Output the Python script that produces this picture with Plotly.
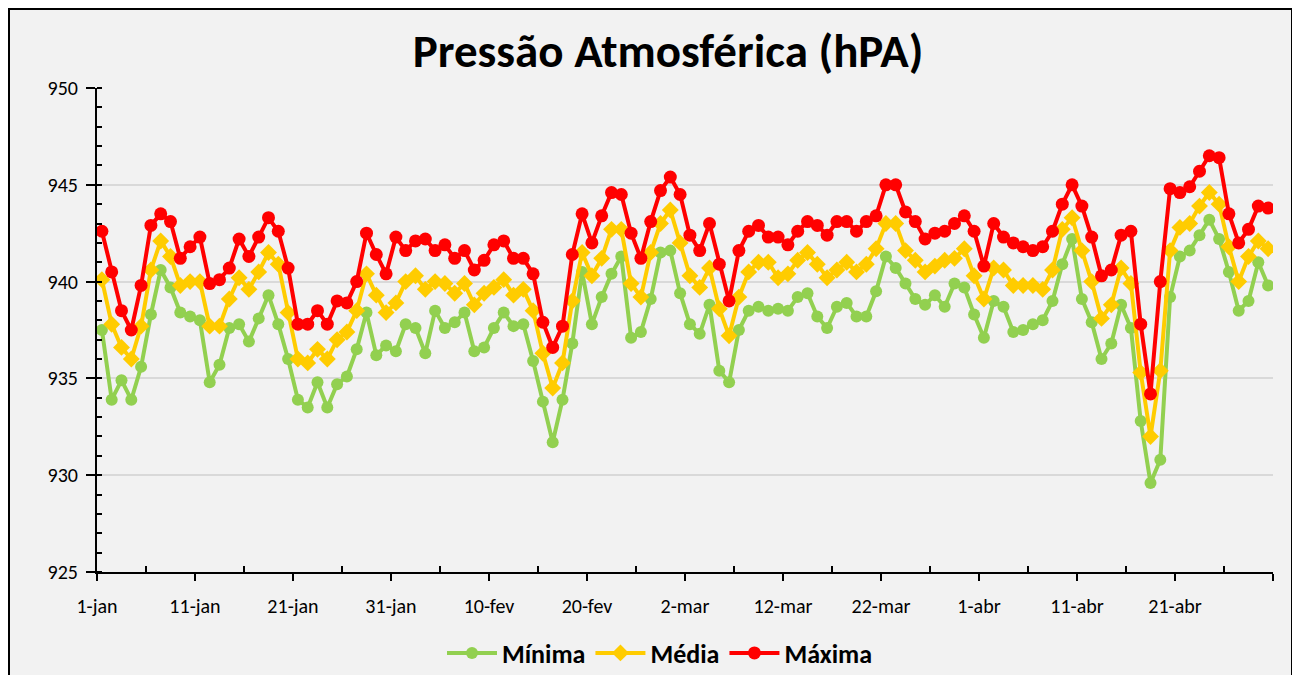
import pandas as pd
import plotly.graph_objects as go

# Daily values, 1-jan .. 30-abr
minima = [937.5, 933.9, 934.9, 933.9, 935.6, 938.3, 940.6, 939.7, 938.4, 938.2,
          938.0, 934.8, 935.7, 937.6, 937.8, 936.9, 938.1, 939.3, 937.8, 936.0,
          933.9, 933.5, 934.8, 933.5, 934.7, 935.1, 936.5, 938.4, 936.2, 936.7,
          936.4, 937.8, 937.6, 936.3, 938.5, 937.6, 937.9, 938.4, 936.4, 936.6,
          937.6, 938.4, 937.7, 937.8, 935.9, 933.8, 931.7, 933.9, 936.8, 940.5,
          937.8, 939.2, 940.4, 941.3, 937.1, 937.4, 939.1, 941.5, 941.6, 939.4,
          937.8, 937.3, 938.8, 935.4, 934.8, 937.5, 938.5, 938.7, 938.5, 938.6,
          938.5, 939.2, 939.4, 938.2, 937.6, 938.7, 938.9, 938.2, 938.2, 939.5,
          941.3, 940.7, 939.9, 939.1, 938.8, 939.3, 938.7, 939.9, 939.7, 938.3,
          937.1, 939.0, 938.7, 937.4, 937.5, 937.8, 938.0, 939.0, 940.9, 942.2,
          939.1, 937.9, 936.0, 936.8, 938.8, 937.6, 932.8, 929.6, 930.8, 939.2,
          941.3, 941.6, 942.4, 943.2, 942.2, 940.5, 938.5, 939.0, 941.0, 939.8]

media = [940.1, 937.8, 936.6, 936.0, 937.7, 940.6, 942.1, 941.3, 939.8, 940.0,
         940.0, 937.7, 937.7, 939.1, 940.2, 939.6, 940.5, 941.5, 940.9, 938.4,
         936.0, 935.8, 936.5, 936.0, 937.0, 937.4, 938.5, 940.4, 939.3, 938.4,
         938.9, 940.0, 940.3, 939.6, 940.0, 939.9, 939.4, 939.9, 938.8, 939.4,
         939.7, 940.1, 939.3, 939.6, 938.5, 936.3, 934.5, 935.8, 939.0, 941.5,
         940.3, 941.2, 942.7, 942.7, 939.9, 939.2, 941.5, 943.0, 943.7, 942.0,
         940.3, 939.7, 940.7, 938.6, 937.2, 939.2, 940.5, 941.0, 941.0, 940.2,
         940.4, 941.1, 941.5, 940.9, 940.2, 940.6, 941.0, 940.5, 940.9, 941.7,
         943.0, 943.0, 941.6, 941.1, 940.5, 940.8, 941.1, 941.2, 941.7, 940.3,
         939.1, 940.7, 940.6, 939.8, 939.8, 939.8, 939.6, 940.6, 942.7, 943.3,
         941.6, 940.0, 938.1, 938.8, 940.7, 939.9, 935.3, 932.0, 935.4, 941.6,
         942.8, 943.0, 943.9, 944.6, 944.0, 941.8, 940.0, 941.3, 942.1, 941.7]

maxima = [942.6, 940.5, 938.5, 937.5, 939.8, 942.9, 943.5, 943.1, 941.2, 941.8,
          942.3, 939.9, 940.1, 940.7, 942.2, 941.3, 942.3, 943.3, 942.6, 940.7,
          937.8, 937.8, 938.5, 937.8, 939.0, 938.9, 940.0, 942.5, 941.4, 940.4,
          942.3, 941.6, 942.1, 942.2, 941.6, 941.9, 941.2, 941.6, 940.6, 941.1,
          941.9, 942.1, 941.2, 941.2, 940.4, 937.9, 936.6, 937.7, 941.4, 943.5,
          942.0, 943.4, 944.6, 944.5, 942.5, 941.2, 943.1, 944.7, 945.4, 944.5,
          942.4, 941.6, 943.0, 940.9, 939.0, 941.6, 942.6, 942.9, 942.3, 942.3,
          941.9, 942.6, 943.1, 942.9, 942.4, 943.1, 943.1, 942.6, 943.1, 943.4,
          945.0, 945.0, 943.6, 943.1, 942.2, 942.5, 942.6, 943.0, 943.4, 942.6,
          940.8, 943.0, 942.3, 942.0, 941.8, 941.6, 941.8, 942.6, 944.0, 945.0,
          943.9, 942.3, 940.3, 940.6, 942.4, 942.6, 937.8, 934.2, 940.0, 944.8,
          944.6, 944.9, 945.7, 946.5, 946.4, 943.5, 942.0, 942.7, 943.9, 943.8]

tick_labels = ["1-jan", "11-jan", "21-jan", "31-jan", "10-fev", "20-fev",
               "2-mar", "12-mar", "22-mar", "1-abr", "11-abr", "21-abr", ""]

start = pd.Timestamp("2023-01-01")
days = pd.date_range(start, periods=len(minima), freq="D")
x_mid = days + pd.Timedelta(hours=12)   # points centred between day boundaries
tick_dates = [start + pd.Timedelta(days=10 * k) for k in range(len(tick_labels))]
minor_dates = [start + pd.Timedelta(days=5 + 10 * k) for k in range(12)]
x_end = start + pd.Timedelta(days=120)

FONT = "Carlito, Lato, 'DejaVu Sans', sans-serif"

fig = go.Figure()
fig.add_trace(go.Scatter(x=x_mid, y=minima, name="Mínima", mode="lines+markers",
                         line=dict(color="#92d050", width=4),
                         marker=dict(symbol="circle", size=12, color="#92d050")))
fig.add_trace(go.Scatter(x=x_mid, y=media, name="Média", mode="lines+markers",
                         line=dict(color="#ffcc00", width=4),
                         marker=dict(symbol="diamond", size=13, color="#ffcc00")))
fig.add_trace(go.Scatter(x=x_mid, y=maxima, name="Máxima", mode="lines+markers",
                         line=dict(color="#ff0000", width=4),
                         marker=dict(symbol="circle", size=13, color="#ff0000")))

# page body has an 8px margin: figure spans screen x 8..1300, y 8..675
W, H = 1292, 667
L, T = 89, 80
PW, PH = 1176, 484
fig.add_shape(type="rect", xref="paper", yref="paper",
              x0=-(L - 1) / PW, x1=(1292 - 8 - L) / PW,
              y0=-0.26, y1=(PH + T - 1) / PH,
              line=dict(color="black", width=2), fillcolor="#f2f2f2", layer="below")

fig.update_layout(
    width=W, height=H,
    margin=dict(l=L, r=W - L - PW, t=T, b=H - T - PH, autoexpand=False),
    paper_bgcolor="white", plot_bgcolor="#f2f2f2",
    font=dict(family=FONT, color="black", size=20),
    title=dict(text="<b>Pressão Atmosférica (hPA)</b>", x=(668 - 8) / W, xanchor="center",
               y=1 - (51 - 8) / H, yanchor="middle", yref="container",
               font=dict(family=FONT, size=47, color="black")),
    showlegend=True,
    legend=dict(orientation="h", x=(660 - 97) / PW, xanchor="center",
                y=(572 - 653) / PH, yanchor="middle",
                font=dict(family=FONT, size=26, color="black", weight="bold"),
                bgcolor="rgba(0,0,0,0)", itemwidth=50),
    xaxis=dict(type="date", range=[start, x_end], tickmode="array",
               tickvals=tick_dates, ticktext=tick_labels,
               showgrid=False, zeroline=False, automargin=False,
               showline=True, linecolor="black", linewidth=2,
               ticks="outside", ticklen=7, tickwidth=2, tickcolor="black",
               ticklabelstandoff=8,
               minor=dict(tickmode="array", tickvals=minor_dates, ticks="inside",
                          ticklen=6, tickwidth=2, tickcolor="black", showgrid=False),
               tickfont=dict(family=FONT, size=20, color="black")),
    xaxis2=dict(type="date", range=[start, x_end], overlaying="x", anchor="y",
                tickmode="array", tickvals=tick_dates, ticktext=[""] * len(tick_dates),
                showgrid=False, zeroline=False, showline=False,
                ticks="inside", ticklen=7, tickwidth=2, tickcolor="black",
                showticklabels=False, side="bottom"),
    yaxis=dict(range=[925, 950], dtick=5, tick0=925, automargin=False,
               showgrid=True, gridcolor="#d9d9d9", gridwidth=2, zeroline=False,
               showline=True, linecolor="black", linewidth=2,
               ticks="outside", ticklen=9, tickwidth=2, tickcolor="black",
               ticklabelstandoff=4,
               minor=dict(dtick=1, ticks="inside", ticklen=5, tickwidth=2,
                          tickcolor="black", showgrid=False),
               tickfont=dict(family=FONT, size=20, color="black")),
    yaxis2=dict(range=[925, 950], dtick=5, tick0=925, overlaying="y", anchor="x",
                side="left", showgrid=False, zeroline=False, showline=False,
                ticks="inside", ticklen=6, tickwidth=2, tickcolor="black",
                showticklabels=False),
)

fig.write_html("out.html")
